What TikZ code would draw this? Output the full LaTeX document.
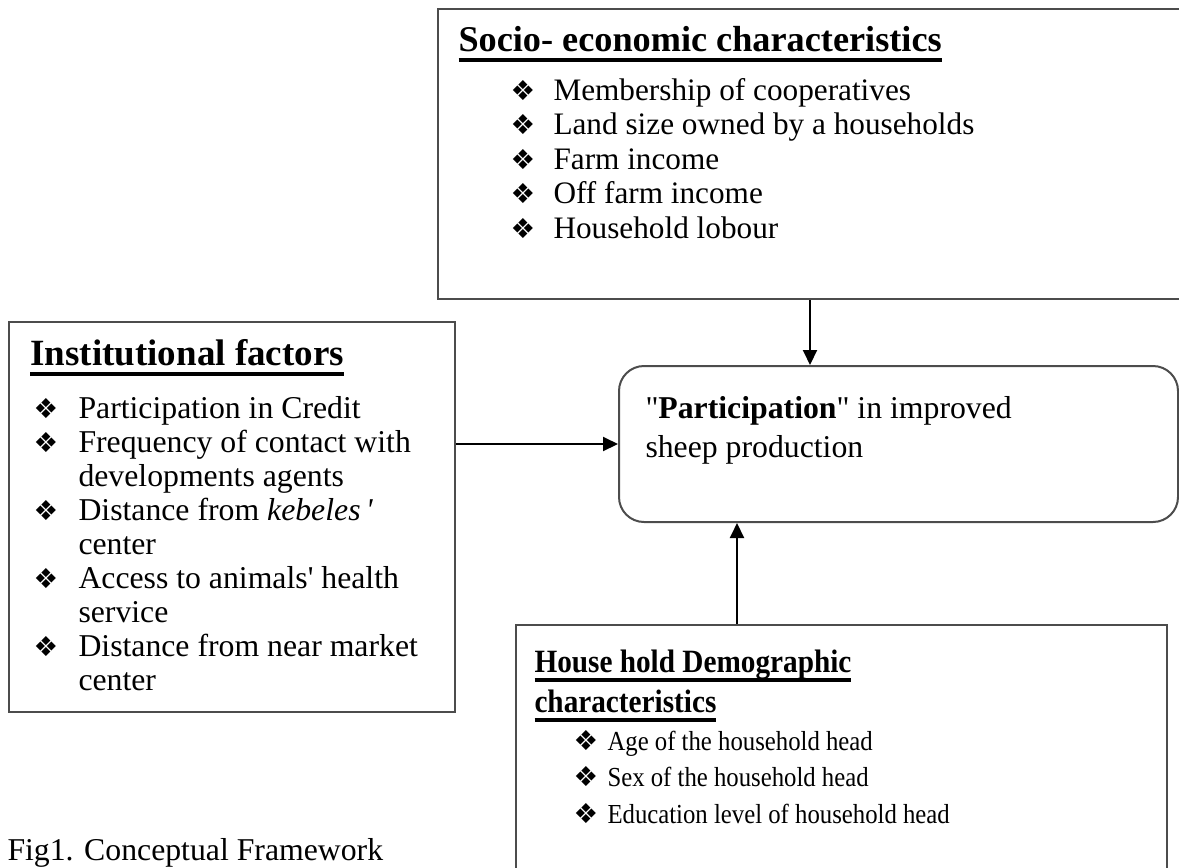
\documentclass[tikz,border=0pt]{standalone}
\usepackage{fontspec}
\setmainfont{Liberation Serif}[Ligatures=TeXOff]
\newfontfamily\dingfont{DejaVu Sans}
\newfontfamily\narrowserif[FakeStretch=0.9,Ligatures=TeXOff]{Liberation Serif}
\usetikzlibrary{arrows.meta,fit}

% diamond bullet
\newcommand{\dia}{{\dingfont\fontsize{11}{11}\selectfont\char"2756}}
% thick underline for the headings
\newcommand{\uln}[1]{\setbox0\hbox{#1}\rlap{\rule[-0.3em]{\wd0}{0.11em}}\box0}

\tikzset{
  frame/.style={draw=black!70, line width=0.8pt, inner sep=0pt},
  goal/.style={frame, rounded corners=10pt},
  head/.style={anchor=base west, inner sep=0pt, font=\fontsize{14.5}{16}\selectfont\bfseries},
  item/.style={anchor=base west, inner sep=0pt, font=\fontsize{12.5}{14}\selectfont},
  bul/.style={anchor=base west, inner sep=0pt},
  arr/.style={-{Triangle[length=6pt,width=5.6pt]}, line width=0.8pt},
}

\begin{document}
\begin{tikzpicture}[x=0.4pt,y=-0.4pt]
\useasboundingbox (0,0) rectangle (1179,867);

% boxes
\node[frame, fit={(438,9) (1200,299)}] (socio) {};
\node[frame, fit={(9,322) (455,712)}] (inst) {};
\node[goal, fit={(619,366) (1178,522)}] (partic) {};
\node[frame, fit={(516,625) (1167,890)}] (demo) {};

% socio-economic
\node[head] (shead) at (458,51) {\uln{Socio- economic characteristics}};
\foreach \txt [count=\i] in {Membership of cooperatives, Land size owned by a households,
    Farm income, Off farm income, Household lobour}{
  \node[bul] (sb\i) at (510,{100+34.5*(\i-1)}) {\dia};
  \node[item] (st\i) at (553,{100+34.5*(\i-1)}) {\txt};
}

% institutional
\node[head, font=\fontsize{14.8}{16}\selectfont\bfseries] (ihead) at (30,365)
  {\uln{Institutional factors}};
\foreach \txt/\b [count=\i] in {Participation in Credit/1, Frequency of contact with/1,
    developments agents/0, Distance from \textit{kebeles\,'}/1, center/0,
    Access to animals' health/1, service/0, Distance from near market/1, center/0}{
  \node[item, font=\fontsize{12.7}{14}\selectfont] (it\i) at (78,{418+34*(\i-1)}) {\txt};
  \ifnum\b=1 \node[bul] (ib\i) at (33,{418+34*(\i-1)}) {\dia}; \fi
}

% participation
\node[item, font=\fontsize{12.7}{15}\selectfont] (pt1) at (645,418)
  {"\textbf{Participation}" in improved};
\node[item, font=\fontsize{12.7}{15}\selectfont] (pt2) at (645,457) {sheep production};

% demographic
\node[head, font=\narrowserif\fontsize{13}{15}\selectfont\bfseries] (dh1) at (534,672)
  {\uln{House hold Demographic}};
\node[head, font=\narrowserif\fontsize{13}{15}\selectfont\bfseries] (dh2) at (534,712)
  {\uln{characteristics}};
\foreach \txt [count=\i] in {Age of the household head, Sex of the household head,
    Education level of household head}{
  \node[bul] (db\i) at (573,{750+36.5*(\i-1)}) {\dia};
  \node[item, font=\narrowserif\fontsize{11}{13}\selectfont] (dt\i) at (607,{750+36.5*(\i-1)}) {\txt};
}

\node[item, font=\fontsize{12.7}{14}\selectfont] (cap) at (7,860) {Fig1. Conceptual Framework};

% arrows
\coordinate (ax) at (810,0);
\coordinate (bx) at (737,0);
\draw[arr] (socio.south -| ax) -- (partic.north -| ax);
\draw[arr] (inst.east |- partic.west) -- (partic.west);
\draw[arr] (demo.north -| bx) -- (partic.south -| bx);
\end{tikzpicture}
\end{document}
